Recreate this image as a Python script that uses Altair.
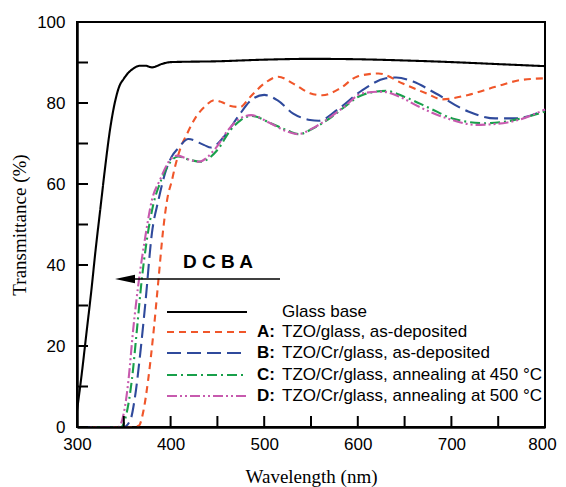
import altair as alt
import pandas as pd

# ---------------- data ----------------
glass_wl = [300, 305, 310, 315, 320, 325, 330, 335, 341, 345, 350, 355, 359, 367, 373,
            380, 385, 390, 401, 450, 500, 550, 600, 650, 700, 750, 800]
glass_t = [4, 13, 23, 33, 44, 54, 64, 73, 80.7, 84, 86, 87.5, 88.3, 89.2, 89.2,
           88.8, 89.1, 89.6, 90.1, 90.3, 90.7, 90.9, 90.8, 90.5, 90.1, 89.6, 89.1]

a_wl = [300, 360, 366, 371, 376, 382, 387, 392, 397, 401, 405, 410, 418, 427, 436, 447,
        455, 463, 474, 485, 500, 515, 531, 549, 562, 581, 599, 622, 648, 673, 690, 718,
        747, 775, 800]
a_t = [0, 0, 0.3, 4, 11.6, 24, 36.3, 48.6, 57, 60.5, 64.5, 68.5, 72.6, 76.5, 79, 80.7,
       80.2, 79.3, 79, 81.5, 84.8, 86.5, 84.8, 82.4, 81.9, 83.6, 86.5, 87.3, 84.8, 82.4,
       80.9, 82, 84, 85.7, 86.1]

b_wl = [300, 350, 357, 362, 367.5, 373, 380, 387, 394, 401, 408, 419, 436, 443, 457, 472,
        486, 500, 514, 531, 549, 558, 578, 605, 630, 641, 659, 683, 718, 747, 768, 800]
b_t = [0, 0, 1.7, 7.5, 18, 30.5, 47.8, 56, 62.6, 66.7, 68.8, 71.1, 69.6, 69, 71.7, 76.6,
       80.7, 82, 80.7, 77.4, 75.8, 75.6, 78.3, 83.2, 86.1, 86.3, 85.3, 82.4, 77.9, 76.2,
       76.2, 78.3]

c_wl = [300, 347, 353, 358.6, 364, 369, 374.5, 381.6, 390, 400, 408, 420, 432, 450, 464,
        475, 487, 507, 525, 537, 552, 570, 584, 605, 630, 650, 677, 701, 736, 760, 800]
c_t = [0, 0, 3.4, 11.6, 24, 36, 46, 55, 61, 65.5, 66.8, 66, 65.5, 68.4, 73.3,
       75.8, 76.8, 75, 73.2, 72.3, 73.7, 76.2, 78.7, 82, 83, 81.5, 78.7, 76.2, 75, 75.5, 77.9]

d_wl = [300, 344, 350, 355, 360, 366, 373, 380, 388.6, 398, 407, 420, 430, 448, 462,
        475, 486, 505, 524, 536, 552, 570, 584, 605, 626, 645, 666, 701, 726, 760, 800]
d_t = [0, 0, 3.4, 11.6, 24, 36, 47, 56, 61, 65.5, 67, 66, 65.5, 68.8, 73.5,
       76.3, 77, 75.2, 73, 72.3, 73.8, 76.4, 78.8, 82.4, 82.8, 81.5, 79, 75.8, 74.6, 75.2, 78.4]

series_names = ["Glass base", "A", "B", "C", "D"]
legend_keys = ["", "A:", "B:", "C:", "D:"]
legend_texts = ["Glass base", "TZO/glass, as-deposited", "TZO/Cr/glass, as-deposited",
                "TZO/Cr/glass, annealing at 450 \u00b0C", "TZO/Cr/glass, annealing at 500 \u00b0C"]
order_label = "D C B A"

x_major = [300, 400, 500, 600, 700, 800]
x_minor = [300, 350, 400, 450, 500, 550, 600, 650, 700, 750, 800]
y_major = [0, 20, 40, 60, 80, 100]
y_minor = [0, 10, 20, 30, 40, 50, 60, 70, 80, 90, 100]

# ---------------- styles ----------------
series_colors = ["#000000", "#F0562A", "#2F4A9C", "#19A04B", "#C75AAE"]
series_dashes = [[1, 0], [7, 5], [14, 6], [10, 4, 2, 4], [10, 3, 2, 3, 2, 3]]

W, H = 468, 405
LABEL_FONT = "Liberation Sans"
TITLE_FONT = "Liberation Serif"

rows = []
for name, wl, tt in zip(series_names, [glass_wl, a_wl, b_wl, c_wl, d_wl],
                        [glass_t, a_t, b_t, c_t, d_t]):
    for w, v in zip(wl, tt):
        rows.append({"series": name, "wl": w, "T": v})
df = pd.DataFrame(rows)

xscale = alt.Scale(domain=[300, 800], nice=False, zero=False)
yscale = alt.Scale(domain=[0, 100], nice=False)
x_axis = alt.Axis(values=x_major, format="d", ticks=False, labelPadding=9,
                  labelFlush=False, labelOverlap=False, zindex=1,
                  labelOffset={"condition": {"test": "datum.value == 800", "value": -3},
                               "value": 0},
                  title="Wavelength (nm)", titlePadding=15)
y_axis = alt.Axis(values=y_major, format="d", ticks=False, labelPadding=12,
                  labelOverlap=False, zindex=1,
                  title="Transmittance (%)", titlePadding=7)

lines = alt.Chart(df).mark_line(strokeWidth=2.1, interpolate="monotone").encode(
    x=alt.X("wl:Q", scale=xscale, axis=x_axis),
    y=alt.Y("T:Q", scale=yscale, axis=y_axis),
    color=alt.Color("series:N", scale=alt.Scale(domain=series_names, range=series_colors),
                    legend=None),
    strokeDash=alt.StrokeDash("series:N",
                              scale=alt.Scale(domain=series_names, range=series_dashes),
                              legend=None),
    detail="series:N",
)

xticks = alt.Chart(pd.DataFrame({"wl": x_minor})).mark_rule(color="black", strokeWidth=2).encode(
    x=alt.X("wl:Q", scale=xscale, axis=x_axis), y=alt.value(H), y2=alt.value(H - 11))
yticks = alt.Chart(pd.DataFrame({"T": y_minor})).mark_rule(color="black", strokeWidth=2).encode(
    y=alt.Y("T:Q", scale=yscale, axis=y_axis), x=alt.value(0), x2=alt.value(11))

dummy = pd.DataFrame({"a": [0]})
layers = [lines, xticks, yticks]

# arrow annotation (pixel positions within the plot area)
layers.append(alt.Chart(dummy).mark_rule(color="black", strokeWidth=1.5).encode(
    x=alt.value(44), x2=alt.value(203), y=alt.value(257)))
layers.append(alt.Chart(dummy).mark_point(
    shape="M0,0L2,-0.42L2,0.42Z", filled=True, color="black", opacity=1, size=400).encode(
    x=alt.value(38), y=alt.value(257)))
layers.append(alt.Chart(dummy).mark_text(
    text=order_label, font=LABEL_FONT, fontSize=19, fontWeight="bold", align="center",
    baseline="middle", color="black").encode(x=alt.value(141), y=alt.value(240)))

# custom legend
legend_y = [290, 310, 331, 353, 374]
for i in range(5):
    layers.append(alt.Chart(dummy).mark_rule(
        color=series_colors[i], strokeWidth=2.1, strokeDash=series_dashes[i]).encode(
        x=alt.value(90), x2=alt.value(170), y=alt.value(legend_y[i])))
    if legend_keys[i]:
        layers.append(alt.Chart(dummy).mark_text(
            text=legend_keys[i], font=LABEL_FONT, fontSize=17, fontWeight="bold",
            align="left", baseline="middle", color="black").encode(
            x=alt.value(180), y=alt.value(legend_y[i])))
    layers.append(alt.Chart(dummy).mark_text(
        text=legend_texts[i], font=LABEL_FONT, fontSize=17, align="left",
        baseline="middle", color="black").encode(
        x=alt.value(205), y=alt.value(legend_y[i])))

chart = alt.layer(*layers).properties(
    width=W, height=H,
    autosize=alt.AutoSizeParams(type="none"),
    padding={"left": 69, "top": 14, "right": 13, "bottom": 62},
).configure_view(
    stroke="black", strokeWidth=2
).configure_axis(
    grid=False, domainColor="black", domainWidth=2.5,
    labelFont=LABEL_FONT, labelFontSize=17, labelColor="black",
    titleFont=TITLE_FONT, titleFontSize=19, titleFontWeight="normal", titleColor="black",
)

chart.save("out.html", embed_options={"renderer": "svg", "actions": False})
